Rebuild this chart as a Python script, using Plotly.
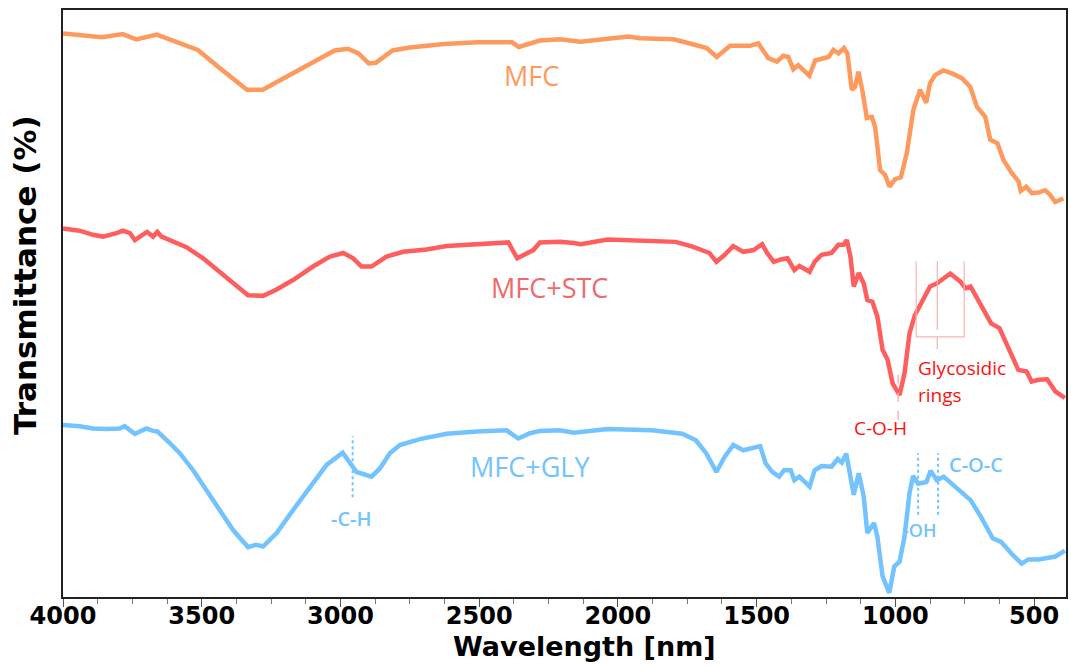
import plotly.graph_objects as go

# ---------------- data ----------------
mfc_x = [4000, 3859, 3785, 3736, 3662, 3588, 3514, 3440, 3378, 3337, 3280, 3193, 3096, 3021, 2973,
         2935, 2898, 2873, 2812, 2750, 2627, 2505, 2382, 2357, 2282, 2209, 2135, 2061, 1962, 1920,
         1800, 1740, 1680, 1644, 1596, 1560, 1524, 1494, 1458, 1427, 1404, 1386, 1368, 1350, 1332,
         1310, 1289, 1265, 1241, 1223, 1205, 1185, 1173, 1157, 1145, 1133, 1117, 1103, 1085, 1073,
         1055, 1037, 1021, 1001, 980, 959, 935, 911, 889, 875, 857, 827, 796, 760, 730, 706, 676,
         658, 632, 610, 580, 556, 548, 528, 508, 484, 460, 442, 424, 394]
mfc_y = [96.0, 95.35, 95.9, 95.0, 95.8, 94.6, 93.2, 90.3, 87.8, 86.4, 86.4, 88.6, 91.2, 93.1, 93.4,
         92.6, 90.9, 91.0, 93.1, 93.6, 94.2, 94.5, 94.5, 93.7, 94.8, 95.0, 94.6, 95.0, 95.5, 95.2,
         95.0, 94.3, 93.5, 92.0, 93.9, 93.9, 93.9, 94.3, 91.8, 91.2, 92.2, 92.0, 89.9, 90.6, 89.8,
         88.8, 91.4, 91.8, 92.0, 93.2, 92.6, 93.5, 92.6, 86.4, 86.9, 89.5, 85.8, 81.6, 81.8, 80.1,
         72.7, 71.9, 69.9, 71.2, 71.5, 75.6, 83.0, 86.4, 84.2, 87.5, 88.9, 89.7, 89.2, 88.4, 86.9,
         83.5, 81.8, 77.9, 77.3, 74.4, 72.2, 70.8, 69.2, 69.9, 68.8, 68.9, 69.3, 68.5, 67.3, 67.9]

stc_x = [4000, 3940, 3892, 3856, 3807, 3784, 3759, 3741, 3723, 3697, 3675, 3660, 3645, 3603, 3555,
         3495, 3435, 3375, 3333, 3279, 3230, 3171, 3099, 3038, 2990, 2954, 2924, 2888, 2834, 2774,
         2690, 2617, 2473, 2395, 2363, 2329, 2305, 2281, 2209, 2159, 2134, 2037, 1914, 1792, 1731,
         1670, 1645, 1615, 1584, 1548, 1511, 1480, 1462, 1438, 1413, 1389, 1364, 1346, 1309, 1291,
         1266, 1230, 1205, 1187, 1175, 1162, 1150, 1132, 1114, 1101, 1083, 1065, 1046, 1028, 1010,
         985, 967, 949, 930, 900, 875, 851, 802, 765, 747, 729, 692, 655, 625, 588, 557, 527, 509,
         484, 453, 423, 389]
stc_y = [62.8, 62.4, 61.7, 61.4, 62.0, 62.4, 62.0, 60.8, 61.4, 62.2, 61.4, 62.2, 61.4, 60.5, 59.6,
         57.7, 55.4, 52.9, 51.4, 51.3, 52.4, 54.0, 56.3, 58.0, 58.6, 57.7, 56.3, 56.3, 58.0, 58.8,
         59.2, 59.8, 60.1, 60.4, 57.7, 58.6, 59.1, 60.4, 60.5, 60.3, 60.1, 60.9, 60.7, 60.5, 59.7,
         58.6, 57.1, 58.3, 59.8, 58.8, 59.1, 60.1, 58.6, 57.1, 57.5, 57.7, 55.7, 56.4, 55.4, 57.1,
         58.3, 58.6, 60.0, 60.0, 60.8, 58.0, 52.9, 55.2, 53.4, 50.6, 50.3, 47.8, 42.1, 40.4, 36.4,
         34.4, 38.1, 44.9, 48.0, 50.9, 52.9, 53.4, 55.1, 53.7, 52.6, 52.9, 49.7, 46.6, 45.8, 42.1,
         38.7, 38.4, 36.7, 37.0, 37.1, 35.0, 33.9]

gly_x = [4000, 3940, 3892, 3843, 3796, 3778, 3741, 3699, 3675, 3660, 3615, 3579, 3531, 3483, 3435,
         3387, 3333, 3303, 3279, 3230, 3171, 3110, 3050, 2992, 2966, 2942, 2888, 2858, 2822, 2786,
         2714, 2617, 2509, 2401, 2359, 2317, 2281, 2209, 2159, 2037, 1877, 1768, 1719, 1682, 1645,
         1615, 1584, 1548, 1487, 1468, 1444, 1419, 1401, 1377, 1364, 1346, 1309, 1291, 1266, 1230,
         1208, 1193, 1177, 1162, 1150, 1132, 1114, 1101, 1077, 1065, 1046, 1022, 1004, 985, 967,
         949, 936, 918, 888, 873, 851, 826, 777, 729, 692, 649, 619, 582, 545, 521, 484, 423, 389]
gly_y = [29.3, 29.1, 28.7, 28.6, 28.7, 29.1, 27.8, 28.7, 28.3, 28.2, 26.2, 24.5, 21.6, 18.2, 14.5,
         11.4, 8.5, 8.9, 8.6, 10.9, 14.8, 18.8, 22.5, 24.6, 23.0, 21.3, 20.5, 21.9, 24.5, 25.9,
         26.9, 27.8, 28.2, 28.4, 27.0, 27.9, 28.3, 28.4, 28.0, 28.6, 28.4, 27.8, 26.7, 24.5, 21.3,
         23.9, 25.9, 25.0, 25.7, 22.8, 21.3, 20.5, 21.6, 21.6, 19.9, 20.5, 18.8, 21.6, 22.3, 22.2,
         23.5, 22.9, 24.4, 20.5, 17.4, 21.1, 17.1, 10.9, 12.6, 10.3, 3.5, 0.7, 5.2, 6.0, 10.3,
         17.7, 20.6, 19.3, 19.6, 21.5, 19.9, 20.5, 18.5, 16.5, 13.7, 10.0, 9.4, 7.4, 5.7, 6.4, 6.4,
         6.9, 7.9]

series_names = ["MFC", "MFC+STC", "MFC+GLY"]
tick_vals = [4000, 3500, 3000, 2500, 2000, 1500, 1000, 500]
tick_text = ["4000", "3500", "3000", "2500", "2000", "1500", "1000", "500"]
x_title = "Wavelength [nm]"
y_title = "Transmittance (%)"

# band markers (wavenumber positions and y spans)
ch_x, ch_y = 2956, [17.0, 27.4]
coh_x, coh_y = 990, [30.2, 39.5]
gly_ring_x = [925, 849, 752]
gly_ring_top, gly_ring_bot = 57.2, 44.3
oh_x = [918, 846]
oh_y = [14.0, 24.5]

# ---------------- styling ----------------
C_ORANGE = "#FF9A5E"
C_RED = "#FF5E5E"
C_BLUE = "#72C3FF"
C_RED_TXT = "#F06A6A"
C_PURE_RED = "#FF1010"
C_PINK = "#F7B4B4"

fig = go.Figure()
for xs, ys, name, col in [(mfc_x, mfc_y, series_names[0], C_ORANGE),
                          (stc_x, stc_y, series_names[1], C_RED),
                          (gly_x, gly_y, series_names[2], C_BLUE)]:
    fig.add_trace(go.Scatter(x=xs, y=ys, mode="lines", name=name,
                             line=dict(color=col, width=4.5), showlegend=False,
                             hoverinfo="skip"))

# marker lines
fig.add_trace(go.Scatter(x=[ch_x, ch_x], y=ch_y, mode="lines", showlegend=False,
                         line=dict(color=C_BLUE, width=2, dash="dot"), hoverinfo="skip"))
fig.add_trace(go.Scatter(x=[coh_x, coh_x], y=coh_y, mode="lines", showlegend=False,
                         line=dict(color=C_PINK, width=1.5, dash="dash"), hoverinfo="skip"))
for xv in oh_x:
    fig.add_trace(go.Scatter(x=[xv, xv], y=oh_y, mode="lines", showlegend=False,
                             line=dict(color=C_BLUE, width=2, dash="dot"), hoverinfo="skip"))
# glycosidic bracket
fig.add_trace(go.Scatter(x=[gly_ring_x[0], gly_ring_x[0], gly_ring_x[2], gly_ring_x[2]],
                         y=[gly_ring_top, gly_ring_bot, gly_ring_bot, gly_ring_top],
                         mode="lines", showlegend=False,
                         line=dict(color=C_PINK, width=1.2), hoverinfo="skip"))
fig.add_trace(go.Scatter(x=[gly_ring_x[1], gly_ring_x[1], None, gly_ring_x[1], gly_ring_x[1]],
                         y=[gly_ring_top, 45.5, None, gly_ring_bot, 42.2],
                         mode="lines", showlegend=False,
                         line=dict(color=C_PINK, width=1.2), hoverinfo="skip"))

def label(x, y, text, color, size, xanchor="center", weight="normal"):
    fig.add_annotation(x=x, y=y, text=text, showarrow=False, xanchor=xanchor, yanchor="middle",
                       font=dict(family="Open Sans", size=size, color=color, weight=weight))

label(2310, 88.9, "MFC", C_ORANGE, 27)
label(2245, 52.8, "MFC+STC", C_RED_TXT, 27)
label(2317, 22.3, "MFC+GLY", C_BLUE, 27)
label(2959, 13.3, "-C-H", C_BLUE, 20, weight=600)
label(1055, 28.8, "C-O-H", C_PURE_RED, 19)
label(925, 39.0, "Glycosidic", C_PURE_RED, 19, xanchor="left")
label(925, 34.4, "rings", C_PURE_RED, 19, xanchor="left")
label(911, 11.4, "-OH", C_BLUE, 18, weight=600)
label(709, 22.5, "C-O-C", C_BLUE, 20, weight=600)

# axis titles
fig.add_annotation(xref="paper", yref="paper", x=0.5204, y=-0.114, xanchor="center",
                   yanchor="bottom", showarrow=False, text=x_title,
                   font=dict(family="DejaVu Sans", size=27, color="black", weight="bold"))
fig.add_annotation(xref="paper", yref="paper", x=-0.0379, y=0.5486, xanchor="center",
                   yanchor="middle", showarrow=False, text=y_title, textangle=-90,
                   font=dict(family="DejaVu Sans", size=31, color="black", weight="bold"))

fig.update_layout(
    width=1071, height=666,
    margin=dict(l=63, r=5, t=10, b=69),
    paper_bgcolor="white", plot_bgcolor="white",
    font=dict(family="DejaVu Sans", color="black"),
)
fig.update_xaxes(
    range=[4000, 385], autorange=False, automargin=False,
    tickvals=tick_vals, ticktext=tick_text,
    ticks="outside", ticklen=8, tickwidth=1.2, tickcolor="#555",
    ticklabelstandoff=-12,
    minor=dict(ticks="outside", ticklen=5, dtick=125, tick0=0, tickcolor="#777", tickwidth=1),
    tickfont=dict(family="DejaVu Sans", size=24, color="black", weight="bold"),
    showline=True, linecolor="#222", linewidth=1.5, mirror=True,
    showgrid=False, zeroline=False,
)
fig.update_yaxes(
    range=[0, 100], autorange=False, automargin=False,
    showticklabels=False, ticks="",
    showline=True, linecolor="#222", linewidth=1.5, mirror=True,
    showgrid=False, zeroline=False,
)

fig.write_html("out.html", config={"displayModeBar": False},
               post_script="document.body.style.margin='0';document.body.style.overflow='hidden';")
